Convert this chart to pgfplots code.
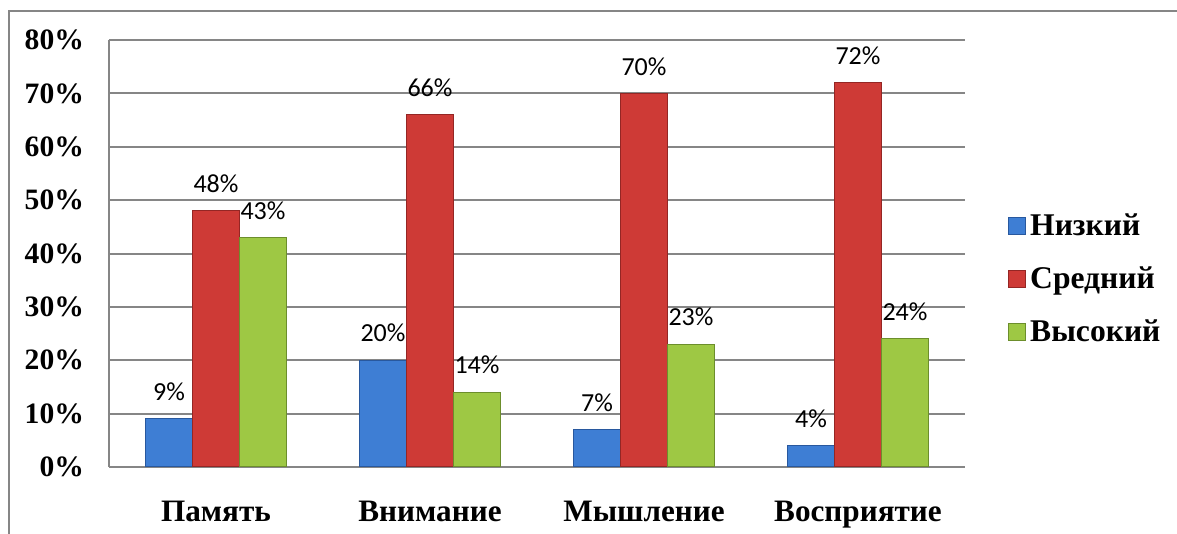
\documentclass[border=0pt]{standalone}
\usepackage{fontspec}
\setmainfont{Liberation Serif}
\newfontfamily\calfont{Carlito}
\usepackage{pgfplots}
\pgfplotsset{compat=1.18}

\definecolor{blueM}{RGB}{62,126,212}
\definecolor{blueE}{RGB}{40,88,158}
\definecolor{redM}{RGB}{206,58,54}
\definecolor{redE}{RGB}{148,38,36}
\definecolor{greenM}{RGB}{158,200,68}
\definecolor{greenE}{RGB}{108,142,44}
\definecolor{gridgray}{RGB}{134,134,134}

\begin{document}
\begin{tikzpicture}
\path[use as bounding box] (0,0) rectangle (588.5pt,267pt);
\draw[gridgray, line width=0.8pt] (4.5pt,0) |- (588.5pt,261.5pt);
\begin{axis}[
  at={(54.5pt,33.5pt)}, anchor=south west,
  scale only axis, width=428pt, height=213.5pt,
  ybar=0pt, bar width=23.5pt,
  xmin=-0.5, xmax=3.5, ymin=0, ymax=80,
  xtick={0,1,2,3},
  xticklabels={Память,Внимание,Мышление,Восприятие},
  ytick={0,10,...,80},
  yticklabels={0\%,10\%,20\%,30\%,40\%,50\%,60\%,70\%,80\%},
  tick style={draw=none},
  yticklabel style={font=\bfseries\fontsize{14.8}{17}\selectfont, xshift=-9pt},
  xticklabel style={font=\bfseries\fontsize{15.6}{18}\selectfont, yshift=-9pt},
  ymajorgrids, major grid style={gridgray, line width=1pt},
  axis x line*=bottom, axis y line*=left,
  axis line style={gridgray, line width=1pt},
  enlargelimits=false,
  nodes near coords={\pgfmathprintnumber[assume math mode=true]{\pgfplotspointmeta}\%},
  nodes near coords style={font=\calfont\fontsize{13}{15}\selectfont, anchor=south, yshift=5.5pt, black},
  legend style={at={(1.043,0.44)}, anchor=west, draw=none, fill=none,
    font=\bfseries\fontsize{15.8}{18}\selectfont, row sep=10pt},
  legend image code/.code={\path[#1] (0pt,-4.2pt) rectangle (8.5pt,4.2pt);},
  legend cell align=left,
]
\addplot[draw=blueE, line width=0.5pt, fill=blueM]
  coordinates {(0,9) (1,20) (2,7) (3,4)};
\addplot[draw=redE, line width=0.5pt, fill=redM]
  coordinates {(0,48) (1,66) (2,70) (3,72)};
\addplot[draw=greenE, line width=0.5pt, fill=greenM]
  coordinates {(0,43) (1,14) (2,23) (3,24)};
\legend{Низкий,Средний,Высокий}
\end{axis}
\end{tikzpicture}
\end{document}
